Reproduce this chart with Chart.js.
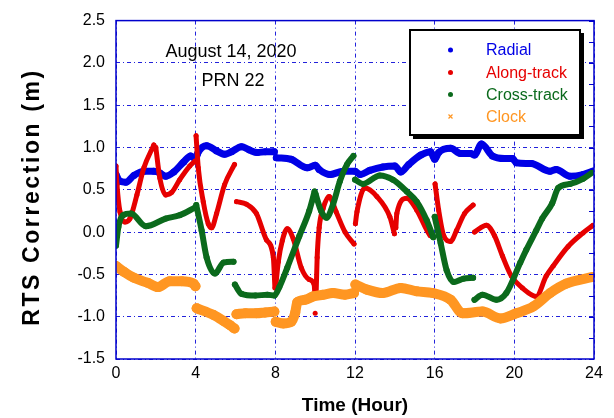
<!DOCTYPE html>
<html>
<head>
<meta charset="utf-8">
<title>RTS Correction</title>
<script src="https://cdn.jsdelivr.net/npm/chart.js@4.4.1/dist/chart.umd.min.js"></script>
<style>
  html, body { margin: 0; padding: 0; background: #fff; }
  #wrap { width: 614px; height: 418px; }
</style>
</head>
<body>
<div id="wrap"><canvas id="rts-chart" width="614" height="418"></canvas></div>
<script>
/***** Data (hours / metres), null = data gap *****/
const xTicks = [0, 4, 8, 12, 16, 20, 24];
const yTicks = [-1.5, -1.0, -0.5, 0.0, 0.5, 1.0, 1.5, 2.0, 2.5];

const seriesNames = ["Radial", "Along-track", "Cross-track", "Clock"];

const radialHours = [0, 0.2, 0.5, 0.9, 1.4, 1.9, 2.2, 2.5, 2.9, 3.4, 3.75, 4.0, 4.1, 4.55, 5.05, 5.45, 5.8, 6.3, 6.7, 7.1, 7.5, 7.95,
  8.0,
  8.05, 8.8, 9.6, 10.0, 10.2, 10.75, 11.4, 12.0, 12.25, 12.75, 13.4, 14.0, 14.3, 14.7, 15.3, 15.8, 16.0, 16.2, 16.8,
  17.3, 17.8, 18.0, 18.35, 18.9, 19.5, 19.9, 20.1, 20.85, 21.8, 22.1, 22.8, 23.45, 23.95];
const radialValues = [0.68, 0.6, 0.59, 0.67, 0.72, 0.72, 0.7, 0.66, 0.71, 0.83, 0.9, 0.86, 0.93, 1.02, 0.96, 0.92, 0.95, 1.01, 0.97, 0.94, 0.95, 0.95,
  null,
  0.88, 0.86, 0.76, 0.79, 0.74, 0.68, 0.72, 0.72, 0.68, 0.73, 0.77, 0.78, 0.71, 0.8, 0.91, 0.95, 0.86, 0.94, 0.99,
  0.93, 0.93, 0.91, 1.04, 0.9, 0.87, 0.87, 0.82, 0.81, 0.72, 0.74, 0.66, 0.68, 0.72];

const alongHours = [0, 0.05, 0.2, 0.45, 0.7, 1.05, 1.4, 1.9,
  1.95,
  2.0, 2.2, 2.5, 2.8, 3.2, 3.7, 3.97,
  3.99,
  4.02, 4.13, 4.38, 4.63, 4.8, 5.05, 5.45, 5.95,
  6.0,
  6.05, 6.55, 7.05, 7.55, 7.9, 7.98,
  8.0,
  8.03, 8.15, 8.35, 8.6, 8.9, 9.3, 9.7, 9.95, 9.98,
  9.99, 10.0, 10.01,
  10.05, 10.1, 10.2, 10.4, 10.7, 11.05, 11.5, 11.95,
  12.0,
  12.02, 12.1, 12.5, 13.1, 13.75, 13.98,
  14.0,
  14.05, 14.1, 14.6, 15.1, 15.77, 15.95,
  16.0,
  16.02, 16.2, 16.45, 16.8, 17.1, 17.5, 17.93,
  17.96,
  18.0, 18.6, 19.0, 19.4, 19.85, 20.4, 21.1, 21.6, 21.95, 22.7, 23.45, 23.95];
const alongValues = [0.78, 0.56, 0.24, 0.12, 0.16, 0.44, 0.76, 1.03,
  null,
  1.0, 0.64, 0.44, 0.47, 0.62, 0.78, 0.84,
  null,
  1.14, 0.76, 0.36, 0.1, 0.05, 0.22, 0.56, 0.8,
  null,
  0.36, 0.33, 0.22, -0.09, -0.3, -0.66,
  null,
  -0.62, -0.35, -0.1, 0.04, -0.08, -0.42, -0.56, -0.62, -0.72,
  null, -0.96, null,
  -0.72, -0.3, 0.05, 0.28, 0.42, 0.24, 0.0, -0.14,
  null,
  0.1, 0.24, 0.52, 0.42, 0.18, -0.02,
  null,
  0.05, 0.22, 0.4, 0.26, -0.04, -0.06,
  null,
  0.57, 0.26, -0.04, -0.11, 0.02, 0.22, 0.32,
  null,
  0.0, 0.08, -0.04, -0.28, -0.52, -0.66, -0.76, -0.52, -0.4, -0.17, -0.01, 0.08];

const crossHours = [0, 0.12, 0.35, 0.75, 1.5, 2.5, 3.2, 3.97,
  4.0,
  4.03, 4.3, 4.55, 4.97, 5.4, 5.9,
  5.94,
  5.97, 6.3, 7.0, 7.6, 7.95, 8.2, 8.6, 9.2, 9.7, 9.97,
  10.0,
  10.02, 10.3, 10.57, 10.9, 11.24, 11.6, 11.92,
  11.96,
  12.0, 12.4, 13.25, 13.9, 14.6, 15.1, 15.6, 15.93,
  15.97,
  16.0, 16.3, 16.6, 16.95, 17.45, 17.93,
  17.96,
  18.0, 18.4, 19.1, 19.6, 20.3, 20.6, 21.1, 21.4, 21.9, 22.2, 22.8, 23.45, 23.95];
const crossValues = [-0.16, 0.06, 0.2, 0.22, 0.07, 0.16, 0.2, 0.29,
  null,
  0.32, 0.02, -0.3, -0.49, -0.36, -0.35,
  null,
  -0.62, -0.73, -0.75, -0.74, -0.75, -0.65, -0.42, -0.05, 0.25, 0.48,
  null,
  0.45, 0.25, 0.17, 0.33, 0.6, 0.8, 0.9,
  null,
  0.62, 0.57, 0.67, 0.62, 0.48, 0.36, 0.14, -0.06,
  null,
  0.18, -0.13, -0.45, -0.59, -0.55, -0.54,
  null,
  -0.8, -0.74, -0.8, -0.72, -0.36, -0.21, 0.02, 0.16, 0.34, 0.52, 0.57, 0.63, 0.71];

const clockHours = [0, 0.4, 0.9, 1.6, 2.1, 2.7, 3.3, 3.9, 3.99,
  4.02,
  4.05, 4.9, 5.4, 5.72, 5.95,
  6.0,
  6.05, 6.5, 7.05, 7.5, 7.95,
  7.98,
  8.02, 8.4, 8.8, 9.0, 9.1, 9.5, 9.9, 10.4, 10.9, 11.5, 11.95,
  11.98,
  12.02, 12.6, 13.4, 14.3, 15.1, 15.9, 16.8, 17.4, 18.4, 19.3, 20.1, 20.95, 21.8, 22.6, 23.95];
const clockValues = [-0.4, -0.47, -0.54, -0.6, -0.65, -0.58, -0.58, -0.61, -0.64,
  null,
  -0.9, -0.98, -1.05, -1.1, -1.14,
  null,
  -0.97, -0.96, -0.96, -0.95, -0.94,
  null,
  -1.06, -1.08, -1.06, -0.95, -0.83, -0.8, -0.76, -0.74, -0.72, -0.74, -0.72,
  null,
  -0.62, -0.68, -0.72, -0.66, -0.7, -0.72, -0.8, -0.96, -0.94, -1.02, -0.96, -0.88, -0.72, -0.61, -0.53];

/***** Styles *****/
const seriesColors = ["#0000e6", "#e60000", "#0b6a1c", "#ff9622"];
const gridBlue = "rgba(10, 10, 215, 0.9)";

Chart.defaults.font.family = "Arial, 'Liberation Sans', sans-serif";
Chart.defaults.color = "#000";

// Turn hour/value arrays into {x, y} points
const toPoints = (hours, values) => hours.map((h, i) => ({ x: h, y: values[i] }));

const makeDataset = (index, hours, values, width) => ({
  label: seriesNames[index],
  data: toPoints(hours, values),
  showLine: true,
  spanGaps: false,
  borderColor: seriesColors[index],
  backgroundColor: seriesColors[index],
  borderWidth: width,
  pointRadius: width / 2,
  pointBorderWidth: 0,
  borderJoinStyle: "round",
  borderCapStyle: "round",
  cubicInterpolationMode: "monotone",
  order: 4 - index,
});

/***** Plugins *****/
// Blue frame around the plot area
const frameBox = {
  id: "frameBox",
  afterDatasetsDraw: (chart) => {
    const { ctx, chartArea: a } = chart;
    ctx.save();
    ctx.strokeStyle = "#0000cc";
    ctx.lineWidth = 1.5;
    ctx.strokeRect(a.left, a.top, a.right - a.left, a.bottom - a.top);
    // small ticks on the right edge
    const yScale = chart.scales.y;
    ctx.lineWidth = 1;
    for (let v = -1.5; v <= 2.5; v += 0.25) {
      const py = Math.round(yScale.getPixelForValue(v)) + 0.5;
      ctx.beginPath();
      ctx.moveTo(a.right - 5, py);
      ctx.lineTo(a.right, py);
      ctx.stroke();
    }
    ctx.restore();
  },
};

// Legend box, the date / PRN note and the y axis title
const chartNotes = {
  id: "chartNotes",
  afterDraw: (chart) => {
    const ctx = chart.ctx;
    ctx.save();

    // date and satellite
    ctx.fillStyle = "#000";
    ctx.font = "18px Arial, 'Liberation Sans', sans-serif";
    ctx.textAlign = "center";
    ctx.textBaseline = "alphabetic";
    ctx.fillText("August 14, 2020", 231, 57);
    ctx.fillText("PRN 22", 233, 86);

    // legend box with drop shadow
    ctx.fillStyle = "#000";
    ctx.fillRect(413, 33, 171, 106);
    ctx.fillStyle = "#fff";
    ctx.fillRect(410, 30, 170, 105);
    ctx.strokeStyle = "#000";
    ctx.lineWidth = 2;
    ctx.strokeRect(410, 30, 170, 105);

    const rowY = [50, 72.5, 94.5, 116.5];
    ctx.font = "16px Arial, 'Liberation Sans', sans-serif";
    ctx.textAlign = "left";
    ctx.textBaseline = "middle";
    seriesNames.forEach((name, i) => {
      ctx.fillStyle = seriesColors[i];
      ctx.strokeStyle = seriesColors[i];
      if (i < 3) {
        ctx.beginPath();
        ctx.arc(450.5, rowY[i], 2.5, 0, Math.PI * 2);
        ctx.fill();
      } else {
        ctx.lineWidth = 1.2;
        ctx.beginPath();
        ctx.moveTo(448.5, rowY[i] - 2);
        ctx.lineTo(452.5, rowY[i] + 2);
        ctx.moveTo(452.5, rowY[i] - 2);
        ctx.lineTo(448.5, rowY[i] + 2);
        ctx.stroke();
      }
      ctx.fillText(name, 486, rowY[i] + 1);
    });

    // y axis title (spaced bold letters)
    ctx.translate(38.5, 197);
    ctx.rotate(-Math.PI / 2);
    ctx.fillStyle = "#000";
    ctx.font = "bold 23px Arial, 'Liberation Sans', sans-serif";
    ctx.letterSpacing = "2.6px";
    ctx.textAlign = "center";
    ctx.textBaseline = "alphabetic";
    ctx.fillText("RTS Correction (m)", 0, 0);
    ctx.restore();
  },
};

/***** Chart *****/
const rtsChart = new Chart(document.querySelector("#rts-chart"), {
  type: "scatter",
  data: {
    datasets: [
      makeDataset(0, radialHours, radialValues, 7),
      makeDataset(1, alongHours, alongValues, 5),
      makeDataset(2, crossHours, crossValues, 6),
      makeDataset(3, clockHours, clockValues, 10),
    ],
  },
  options: {
    responsive: false,
    animation: false,
    layout: { padding: { top: 20, right: 20, left: 0, bottom: 0 } },
    plugins: {
      legend: { display: false },
      tooltip: { enabled: false },
    },
    scales: {
      x: {
        type: "linear",
        min: 0,
        max: 24,
        afterBuildTicks: (scale) => {
          scale.ticks = xTicks.map((v) => ({ value: v }));
        },
        afterFit: (scale) => {
          scale.height = 59;
        },
        ticks: {
          font: { size: 16 },
          padding: 5,
          maxRotation: 0,
        },
        grid: {
          color: gridBlue,
          lineWidth: 1,
          drawTicks: false,
        },
        border: { display: false, dash: [4, 3, 1, 3] },
        title: {
          display: true,
          text: "Time (Hour)",
          font: { size: 19, weight: "bold" },
          padding: { top: 0, bottom: 1 },
        },
      },
      y: {
        type: "linear",
        min: -1.5,
        max: 2.5,
        afterBuildTicks: (scale) => {
          scale.ticks = yTicks.map((v) => ({ value: v }));
        },
        afterFit: (scale) => {
          scale.width = 116;
        },
        ticks: {
          font: { size: 16 },
          padding: 11,
          callback: (value) => value.toFixed(1),
        },
        grid: {
          color: gridBlue,
          lineWidth: 1,
          drawTicks: false,
        },
        border: { display: false, dash: [4, 3, 1, 3] },
      },
    },
  },
  plugins: [frameBox, chartNotes],
});
</script>
</body>
</html>
